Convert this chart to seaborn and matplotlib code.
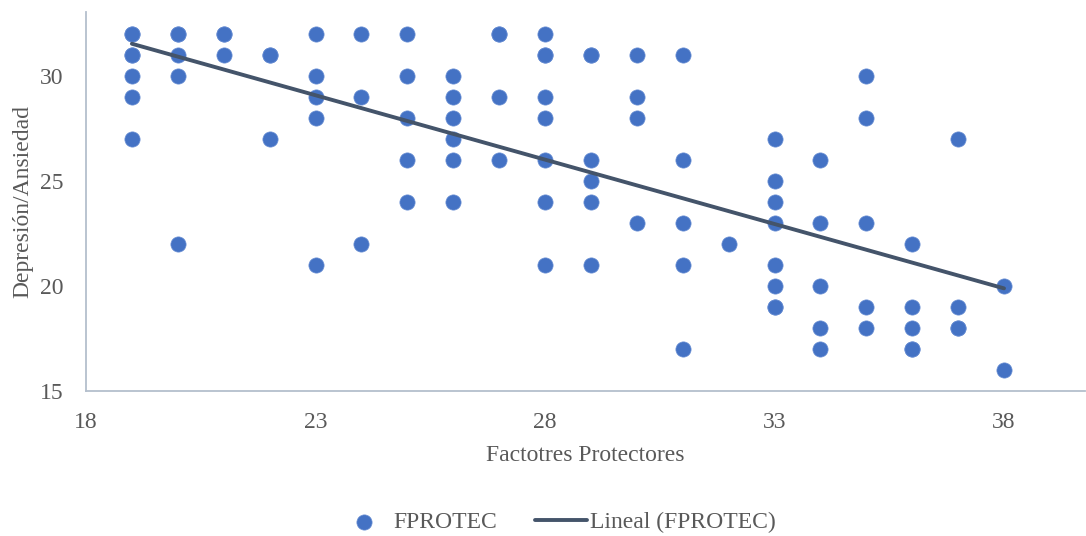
import numpy as np
import pandas as pd
import matplotlib
matplotlib.use("Agg")
import matplotlib.pyplot as plt
import seaborn as sns

# Data (x = Factores Protectores, y = Depresión/Ansiedad)
# (some values repeat: overlapping markers in the reference)
x_19 = [32, 32, 31, 31, 30, 29, 27]
x_20 = [32, 32, 31, 30, 22]
x_21 = [32, 32, 31]
x_22 = [31, 31, 27]
x_23 = [32, 30, 29, 28, 21]
x_24 = [32, 29, 22]
x_25 = [32, 30, 28, 26, 24]
x_26 = [30, 29, 28, 27, 26, 24]
x_27 = [32, 32, 29, 26]
x_28 = [32, 31, 31, 29, 28, 26, 24, 21]
x_29 = [31, 31, 26, 25, 24, 21]
x_30 = [31, 29, 28, 23]
x_31 = [31, 26, 23, 21, 17]
x_32 = [22]
x_33 = [27, 25, 24, 23, 21, 20, 19, 19]
x_34 = [26, 23, 20, 18, 17]
x_35 = [30, 28, 23, 19, 18]
x_36 = [22, 19, 18, 17, 17]
x_37 = [27, 19, 18, 18]
x_38 = [20, 16]

columns = {19: x_19, 20: x_20, 21: x_21, 22: x_22, 23: x_23, 24: x_24, 25: x_25,
           26: x_26, 27: x_27, 28: x_28, 29: x_29, 30: x_30, 31: x_31, 32: x_32,
           33: x_33, 34: x_34, 35: x_35, 36: x_36, 37: x_37, 38: x_38}

fprotec = []
depres = []
for k, vals in columns.items():
    for v in vals:
        fprotec.append(k)
        depres.append(v)
df = pd.DataFrame({"FPROTEC": fprotec, "DEP": depres})

x_ticks = [18, 23, 28, 33, 38]
y_ticks = [15, 20, 25, 30]

sns.set_theme(style="white")
plt.rcParams['font.family'] = ['Liberation Serif', 'DejaVu Serif']

text_color = "#595959"
axis_color = "#B4BFCD"
point_color = "#4472C4"
line_color = "#44546A"
fs = 17

fig = plt.figure(figsize=(10.86, 5.36), dpi=100)
ax = fig.add_axes([86/1086, (536-391)/536, (1085-86)/1086, (391-12)/536])

sns.scatterplot(data=df, x="FPROTEC", y="DEP", ax=ax, color=point_color, s=120,
                edgecolor="#6A8FD4", linewidth=0.5, label="FPROTEC", zorder=2)
sns.regplot(data=df, x="FPROTEC", y="DEP", ax=ax, scatter=False, ci=None,
            truncate=True, color=line_color, line_kws={"linewidth": 2.8, "zorder": 3},
            label="Lineal (FPROTEC)")

ax.set_xlim(18, 18 + (1085-86)/45.9)
ax.set_ylim(15, 15 + (391-12)/21.0)
ax.set_xticks(x_ticks)
ax.set_yticks(y_ticks)
ax.tick_params(axis="both", length=0, labelsize=fs, colors=text_color)
ax.tick_params(axis="y", pad=16)
ax.tick_params(axis="x", pad=15)

for side in ["top", "right"]:
    ax.spines[side].set_visible(False)
for side in ["left", "bottom"]:
    ax.spines[side].set_color(axis_color)
    ax.spines[side].set_linewidth(1.3)

ax.set_xlabel("Factotres Protectores", fontsize=fs, color=text_color, labelpad=9)
ax.set_ylabel("Depresión/Ansiedad", fontsize=fs, color=text_color, labelpad=5)

handles, labels = ax.get_legend_handles_labels()
ax.legend(handles, labels, loc="center", bbox_to_anchor=(557/1086, (536-522)/536),
          bbox_transform=fig.transFigure, ncol=2, frameon=False, fontsize=fs,
          labelcolor=text_color, handlelength=2.2, columnspacing=1.6, handletextpad=0.15,
          markerscale=1.0)

fig.savefig("out.png", dpi=100)
